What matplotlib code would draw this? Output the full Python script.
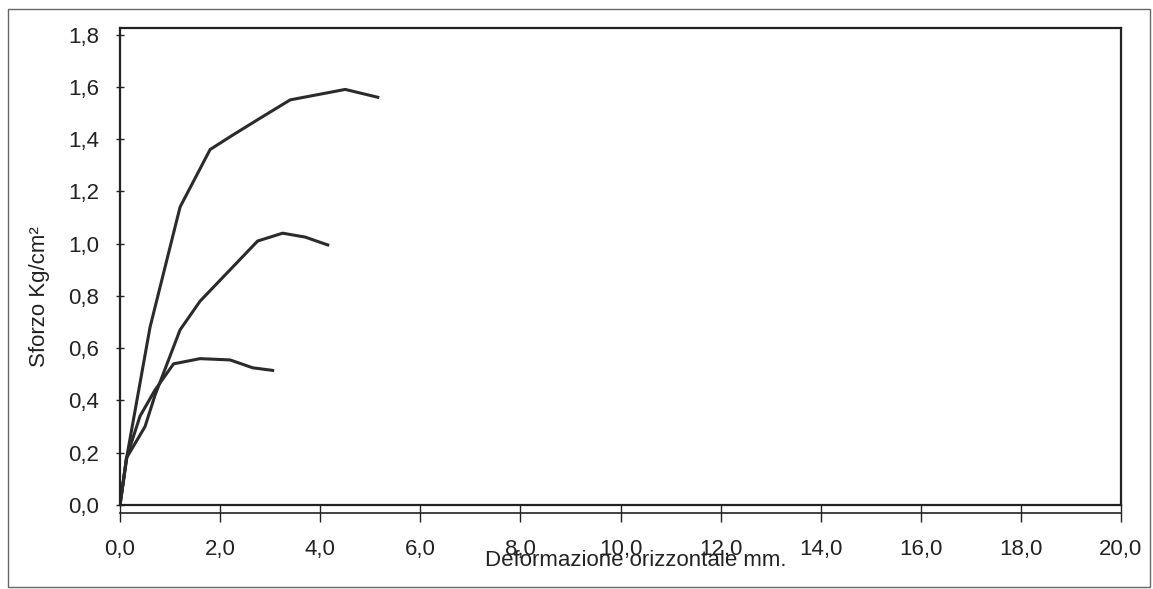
import matplotlib.pyplot as plt
from matplotlib.patches import Rectangle
from matplotlib.ticker import FuncFormatter

plt.rcParams['font.family'] = ['Liberation Sans', 'DejaVu Sans']

# deformazione orizzontale (mm) / sforzo (Kg/cm2) per le tre prove
x_alta = [0.0, 0.15, 0.6, 1.2, 1.8, 2.25, 2.8, 3.4, 4.5, 5.15]
y_alta = [0.0, 0.20, 0.68, 1.14, 1.36, 1.415, 1.48, 1.55, 1.59, 1.56]

x_media = [0.0, 0.13, 0.5, 0.7, 1.2, 1.6, 2.05, 2.45, 2.75, 3.25, 3.7, 4.15]
y_media = [0.0, 0.18, 0.30, 0.42, 0.67, 0.78, 0.87, 0.95, 1.01, 1.04, 1.025, 0.995]

x_bassa = [0.0, 0.13, 0.4, 0.7, 1.07, 1.6, 2.2, 2.65, 3.05]
y_bassa = [0.0, 0.18, 0.34, 0.44, 0.54, 0.56, 0.555, 0.525, 0.515]

x_ticks = [0, 2, 4, 6, 8, 10, 12, 14, 16, 18, 20]
y_ticks = [0.0, 0.2, 0.4, 0.6, 0.8, 1.0, 1.2, 1.4, 1.6, 1.8]

W, H = 1153, 589
fig = plt.figure(figsize=(W / 100, H / 100), dpi=100)
ax = fig.add_axes([120 / W, 1 - 505 / H, 1001 / W, 477 / H])

for xs, ys in [(x_alta, y_alta), (x_media, y_media), (x_bassa, y_bassa)]:
    ax.plot(xs, ys, color='#2b2b2b', linewidth=2.2, solid_joinstyle='round')

ax.set_xlim(0, 20)
ax.set_ylim(0, 1.825)
ax.set_xticks(x_ticks)
ax.set_yticks(y_ticks)
comma = FuncFormatter(lambda v, p: f'{v:.1f}'.replace('.', ','))
ax.xaxis.set_major_formatter(comma)
ax.yaxis.set_major_formatter(comma)

for s in ax.spines.values():
    s.set_color('#222222')
    s.set_linewidth(1.6)
ax.spines['bottom'].set_position(('outward', 6))
ax.spines['bottom'].set_linewidth(1.2)
ax.axhline(0, color='#222222', linewidth=1.6, clip_on=False)

ax.tick_params(axis='x', direction='inout', length=13, width=1.0, pad=12,
               labelsize=16, colors='#222222')
ax.tick_params(axis='y', direction='inout', length=6, width=1.0, pad=12,
               labelsize=16, colors='#222222')

fig.text(40 / W, 1 - 297 / H, 'Sforzo Kg/cm²', rotation=90, fontsize=16,
         ha='center', va='center', color='#222222')
fig.text(636 / W, 1 - 561 / H, 'Deformazione orizzontale mm.', fontsize=16,
         ha='center', va='center', color='#222222')

fig.patches.append(Rectangle((8 / W, 1 - 587 / H), 1142 / W, 578 / H,
                             transform=fig.transFigure, fill=False,
                             edgecolor='#666666', linewidth=1.0))

fig.savefig('out.png', dpi=100)
